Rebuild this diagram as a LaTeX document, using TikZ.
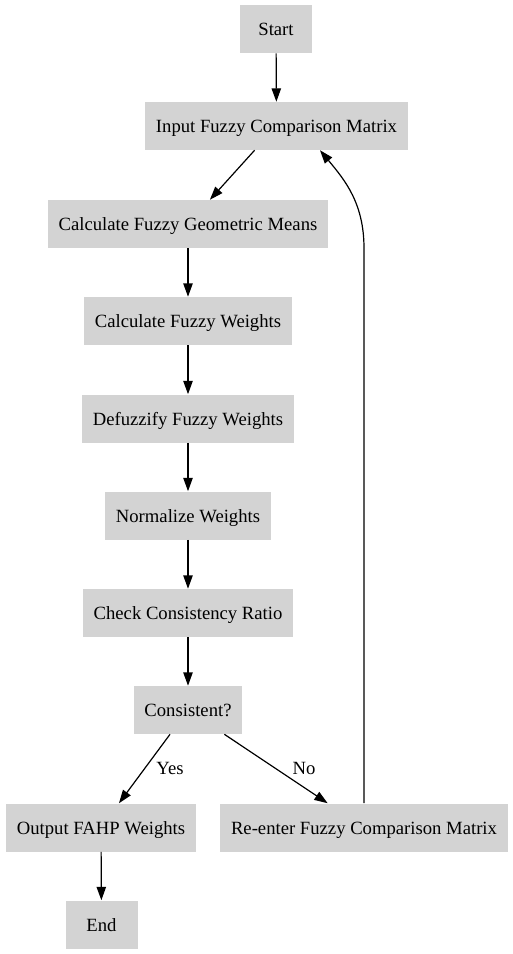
\documentclass[tikz,border=0pt]{standalone}
\usepackage{fontspec}
\setmainfont{Liberation Serif}
\usetikzlibrary{arrows.meta, calc, positioning}
\definecolor{boxgray}{RGB}{211,211,211}

\begin{document}
\begin{tikzpicture}[x=0.75pt, y=-0.75pt,
    box/.style={fill=boxgray, minimum height=36pt, minimum width=54pt, inner xsep=8pt, text height=12.5pt, text depth=2.5pt, font=\fontsize{14}{17}\selectfont},
    flow/.style={line width=0.9pt, -{Triangle[length=10pt,width=7pt]}},
    elabel/.style={inner sep=0pt, font=\fontsize{14}{17}\selectfont}]
  \useasboundingbox (0,0) rectangle (512,954);

  \node [box] (start) at (276,29) {Start};
  \node [box] (input) at (276.5,126) {Input Fuzzy Comparison Matrix};
  \node [box] (geomean) at (188,224) {Calculate Fuzzy Geometric Means};
  \node [box] (weights) at (188,321) {Calculate Fuzzy Weights};
  \node [box] (defuzz) at (188,418.5) {Defuzzify Fuzzy Weights};
  \node [box] (normal) at (188,515.5) {Normalize Weights};
  \node [box] (check) at (188,613) {Check Consistency Ratio};
  \node [box] (consistent) at (188,710) {Consistent?};
  \node [box] (output) at (101,827.5) {Output FAHP Weights};
  \node [box] (reenter) at (364,827.5) {Re-enter Fuzzy Comparison Matrix};
  \node [box] (end) at (101.5,924.5) {End};

  \draw [flow] (start) -- (input);
  \draw [flow] (input) -- (geomean);
  \draw [flow] (geomean) -- (weights);
  \draw [flow] (weights) -- (defuzz);
  \draw [flow] (defuzz) -- (normal);
  \draw [flow] (normal) -- (check);
  \draw [flow] (check) -- (consistent);

  \draw [flow] (consistent) -- (output) node [elabel, midway, right=8.5pt] {Yes};
  \draw [flow] (consistent) -- (reenter) node [elabel, midway, right=12pt] {No};
  \draw [flow] (output) -- (end);

  % loop back to the matrix input
  \draw [flow] (reenter.north) -- (reenter.north |- geomean.south)
    .. controls +(0,-45) and +(25,30) .. ($(input.south)+(43.5,0)$);
\end{tikzpicture}
\end{document}
